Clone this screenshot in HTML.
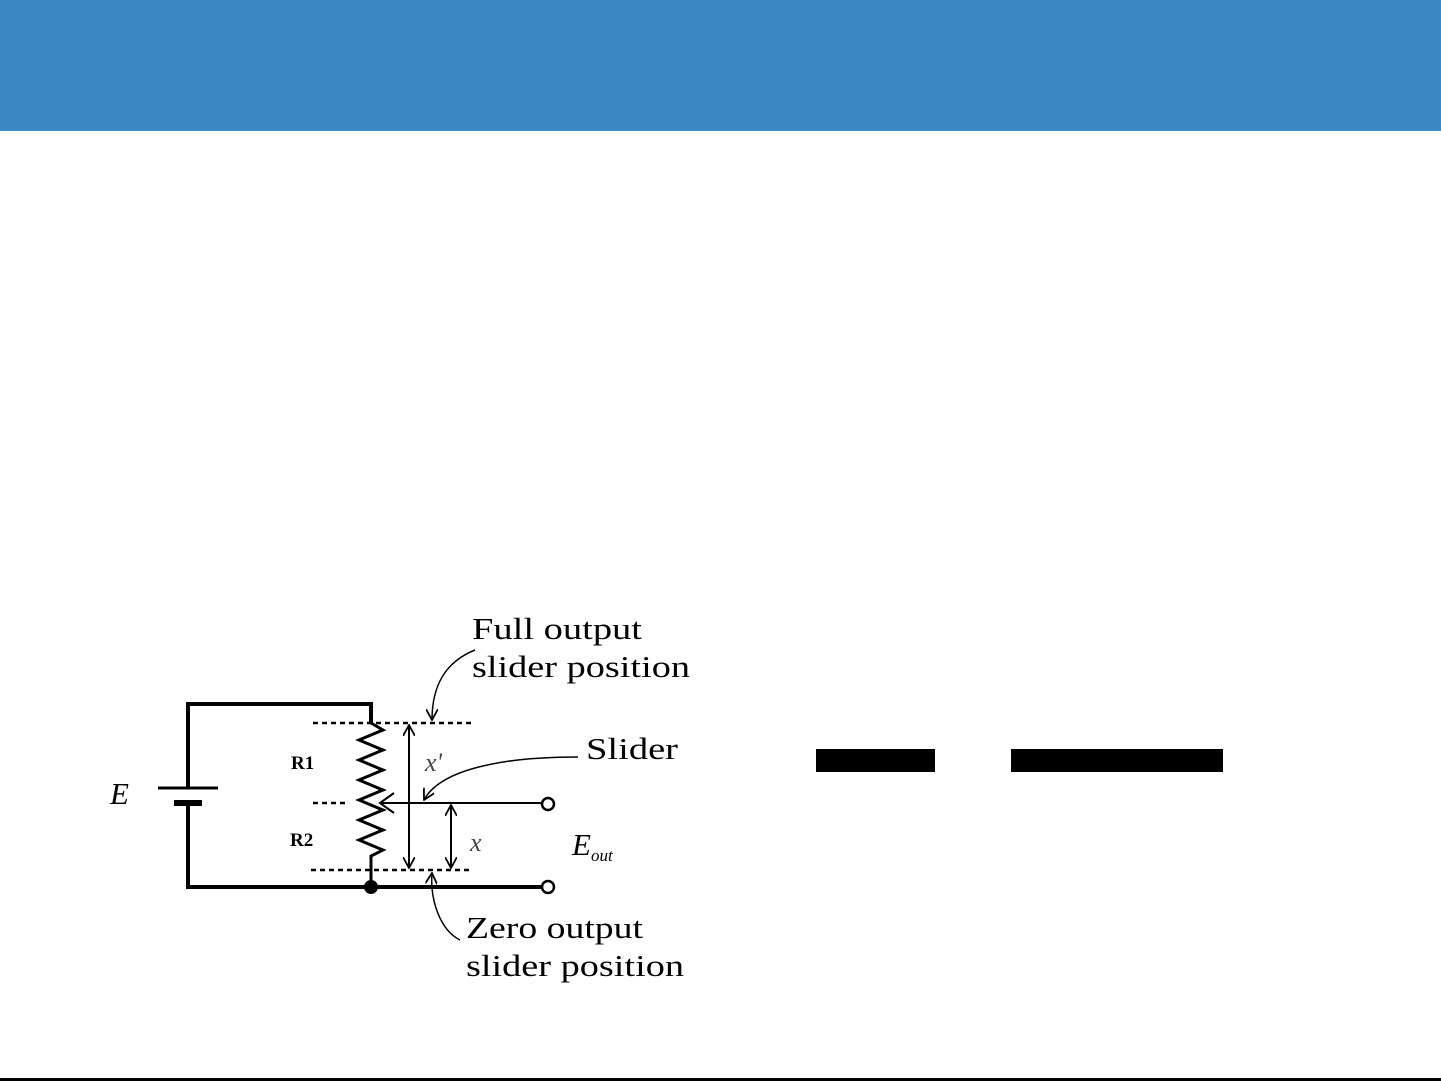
<!DOCTYPE html>
<html><head><style>
body{margin:0;width:1441px;height:1081px;background:#fff;overflow:hidden;position:relative}
.hdr{position:absolute;left:0;top:0;width:1441px;height:131px;background:#3a89c6}
svg{position:absolute;left:0;top:0}
</style></head><body>
<div class="hdr"></div>
<svg width="1441" height="1081" font-family="Liberation Serif, serif">
<defs><marker id="a" markerWidth="12" markerHeight="12" refX="11" refY="6" orient="auto-start-reverse" markerUnits="userSpaceOnUse"><path d="M0,0 L11,6 L0,12" fill="none" stroke="#000" stroke-width="1.8"/></marker></defs>
<g stroke="#000" fill="none">
<path d="M188,788 V704 H371 V723" stroke-width="4"/>
<path d="M188,803 V887 H541" stroke-width="4"/>
<path d="M158,788 H218" stroke-width="3"/>
<path d="M174,803 H202" stroke-width="6"/>
<path d="M371,723 l12,7 l-24,10 l24,10 l-24,10 l24,10 l-24,10 l24,10 l-24,10 l24,10 l-24,10 l24,10 l-24,10 l24,10 l-12,6 V887" stroke-width="3"/>
<g stroke-width="2.5" stroke-dasharray="5,4">
<path d="M313,723 H473"/><path d="M313,803 H348"/><path d="M311,870 H470"/>
</g>
<path d="M380,803 H541" stroke-width="2"/>
<path d="M394,793 L380,803 L394,813" stroke-width="2"/>
<circle cx="548" cy="804" r="6" stroke-width="2.5" fill="#fff"/>
<circle cx="548" cy="887" r="6" stroke-width="2.5" fill="#fff"/>
<path d="M409,725 V868" stroke-width="2" marker-start="url(#a)" marker-end="url(#a)"/>
<path d="M451,805 V868" stroke-width="2" marker-start="url(#a)" marker-end="url(#a)"/>
<path d="M475,650 C450,660 432,680 432,720" stroke-width="1.5" marker-end="url(#a)"/>
<path d="M578,757 C500,757 440,770 424,800" stroke-width="1.5" marker-end="url(#a)"/>
<path d="M460,940 C440,930 430,900 432,873" stroke-width="1.5" marker-end="url(#a)"/>
</g>
<circle cx="371" cy="887" r="7" fill="#000"/>
<g fill="#000" font-size="31">
<text x="472" y="639" textLength="170" lengthAdjust="spacingAndGlyphs">Full output</text>
<text x="472" y="677" textLength="218" lengthAdjust="spacingAndGlyphs">slider position</text>
<text x="586" y="759" textLength="92" lengthAdjust="spacingAndGlyphs">Slider</text>
<text x="466" y="938" textLength="177" lengthAdjust="spacingAndGlyphs">Zero output</text>
<text x="466" y="976" textLength="218" lengthAdjust="spacingAndGlyphs">slider position</text>
<text x="110" y="804" font-style="italic">E</text>
<text x="572" y="855" font-style="italic">E<tspan font-size="17" dy="6">out</tspan></text>
<text x="425" y="771" font-style="italic" font-size="26" fill="#444">x'</text>
<text x="470" y="851" font-style="italic" font-size="26" fill="#444">x</text>
<text x="291" y="769" font-size="19" font-weight="bold">R1</text>
<text x="290" y="846" font-size="19" font-weight="bold">R2</text>
</g>
<rect x="816" y="749" width="119" height="23" fill="#000"/>
<rect x="1011" y="749" width="212" height="23" fill="#000"/>
<rect x="0" y="1078" width="1441" height="3" fill="#000"/>
</svg>
</body></html>
